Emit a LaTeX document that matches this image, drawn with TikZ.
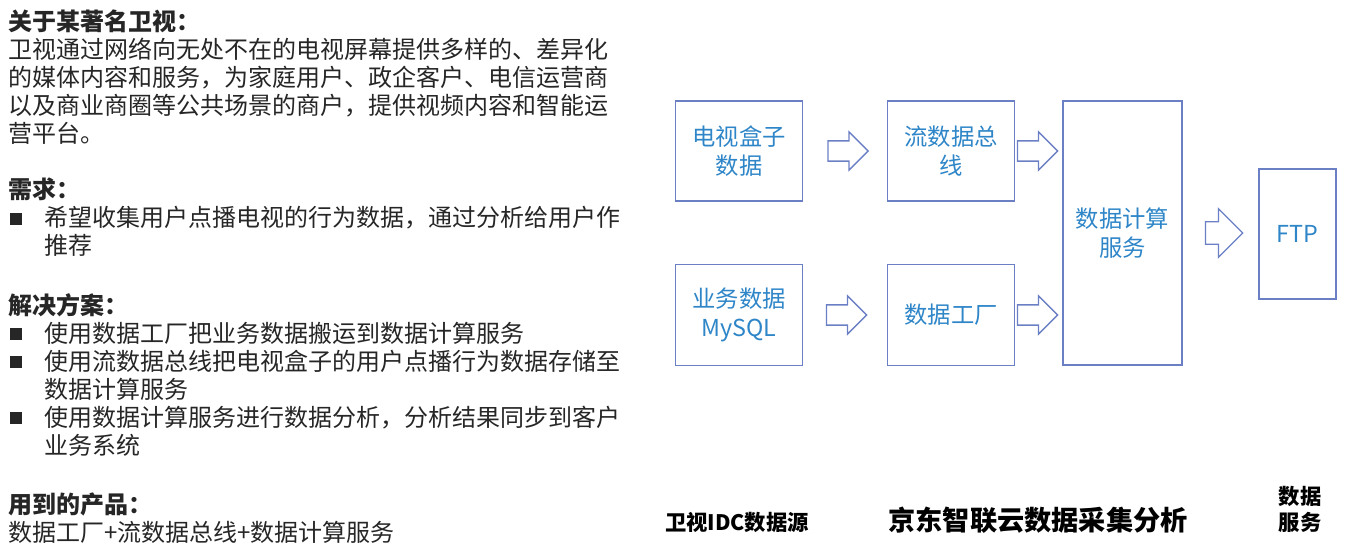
\documentclass[tikz,border=0pt]{standalone}
\usepackage{fontspec}
\setmainfont{Noto Sans CJK SC}
\usetikzlibrary{shapes.arrows}

\definecolor{boxline}{HTML}{6B7FC4}
\definecolor{boxtext}{HTML}{2E86C8}
\definecolor{bodytext}{HTML}{262626}

\newcommand{\bul}{\makebox[27pt][l]{\hspace{1.5pt}\rule[1.5pt]{9pt}{9pt}}}
\newcommand{\ind}{\hspace*{27pt}}

\begin{document}
\begin{tikzpicture}[x=0.75pt, y=-0.75pt,
    box/.style={draw=boxline, line width=1.2pt, fill=white, align=center,
        text=boxtext, font=\fontsize{17.5}{22}\selectfont, inner sep=0pt},
    blockarrow/.style={single arrow, draw=boxline, line width=1pt, inner xsep=0pt},
    para/.style={anchor=north west, align=left, inner sep=0pt, text=bodytext,
        font=\fontsize{18}{21}\selectfont},
    label/.style={font=\bfseries, align=center, inner sep=0pt}]
    \useasboundingbox (0,0) rectangle (1356,559);

    % Left text
    \node[para] (about) at (8,10) {\textbf{关于某著名卫视：}\\
        卫视通过网络向无处不在的电视屏幕提供多样的、差异化\\
        的媒体内容和服务，为家庭用户、政企客户、电信运营商\\
        以及商业商圈等公共场景的商户，提供视频内容和智能运\\
        营平台。};
    \node[para] (need) at (8,178) {\textbf{需求：}\\
        \bul 希望收集用户点播电视的行为数据，通过分析给用户作\\
        \ind 推荐};
    \node[para] (plan) at (8,293) {\textbf{解决方案：}\\
        \bul 使用数据工厂把业务数据搬运到数据计算服务\\
        \bul 使用流数据总线把电视盒子的用户点播行为数据存储至\\
        \ind 数据计算服务\\
        \bul 使用数据计算服务进行数据分析，分析结果同步到客户\\
        \ind 业务系统};
    \node[para] (product) at (8,493) {\textbf{用到的产品：}\\
        数据工厂+流数据总线+数据计算服务};

    % Boxes
    \node[box, minimum width=95pt, minimum height=75pt] (tvbox) at (739,151) {电视盒子\\数据};
    \node[box, minimum width=95pt, minimum height=75pt] (bus) at (951,151) {流数据总\\线};
    \node[box, minimum width=95pt, minimum height=76pt] (mysql) at (739,315) {业务数据\\MySQL};
    \node[box, minimum width=95pt, minimum height=76pt] (factory) at (951,315) {数据工厂};
    \node[box, minimum width=89pt, minimum height=198pt] (compute) at (1122.5,233) {数据计算\\服务};
    \node[box, minimum width=58pt, minimum height=97.5pt] (ftp) at (1297.5,234) {FTP};

    % Arrows
    \node[blockarrow, inner ysep=7.1pt, minimum height=30pt,
        single arrow head extend=6.75pt] (a1) at (843,151) {};
    \node[blockarrow, inner ysep=7.1pt, minimum height=30pt,
        single arrow head extend=6.75pt] (a2) at (1032.5,151) {};
    \node[blockarrow, inner ysep=7.1pt, minimum height=30pt,
        single arrow head extend=6.75pt] (a3) at (841.5,315) {};
    \node[blockarrow, inner ysep=7.1pt, minimum height=30pt,
        single arrow head extend=6.75pt] (a4) at (1032.5,315) {};
    \node[blockarrow, inner ysep=7.9pt, minimum height=28pt,
        single arrow head extend=9.75pt] (a5) at (1218.5,233) {};

    % Bottom labels
    \node[label, font=\bfseries\fontsize{16}{18}\selectfont] (idc) at (737,522) {卫视IDC数据源};
    \node[label, font=\bfseries\fontsize{20.4}{24}\selectfont] (cloud) at (1038,520) {京东智联云数据采集分析};
    \node[label, font=\bfseries\fontsize{16}{19.5}\selectfont] (serve) at (1300,509) {数据\\服务};
\end{tikzpicture}
\end{document}
